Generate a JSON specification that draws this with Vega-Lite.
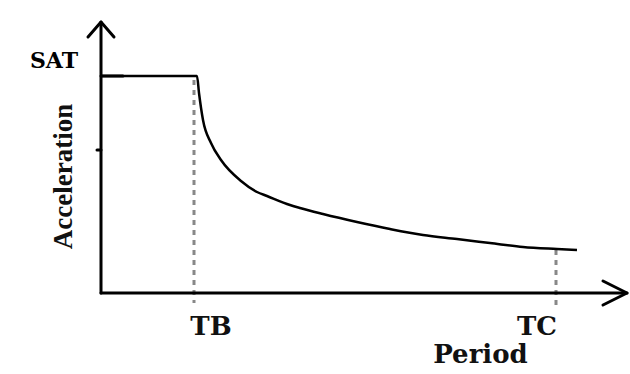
{
  "$schema": "https://vega.github.io/schema/vega-lite/v6.json",
  "width": 526,
  "height": 273,
  "autosize": {"type": "none"},
  "padding": {"left": 101, "top": 20, "right": 3, "bottom": 81},
  "background": "white",
  "config": {"view": {"stroke": null}},
  "datasets": {
    "curve": [
      {"x": 0, "y": 217}, {"x": 96, "y": 217}, {"x": 98, "y": 200}, {"x": 102, "y": 173},
      {"x": 110, "y": 150}, {"x": 120, "y": 133}, {"x": 140, "y": 112}, {"x": 156, "y": 101},
      {"x": 166, "y": 97}, {"x": 189, "y": 88}, {"x": 199, "y": 85}, {"x": 222, "y": 79},
      {"x": 256, "y": 71}, {"x": 289, "y": 64}, {"x": 322, "y": 58}, {"x": 356, "y": 54},
      {"x": 389, "y": 50}, {"x": 422, "y": 46}, {"x": 456, "y": 44}, {"x": 476, "y": 43}
    ],
    "guides": [
      {"id": "TB", "x": 93, "y": 213}, {"id": "TB", "x": 93, "y": -10},
      {"id": "TC", "x": 455, "y": 43}, {"id": "TC", "x": 455, "y": -12}
    ],
    "frame": [
      {"id": "yaxis", "o": 1, "x": 0, "y": 0}, {"id": "yaxis", "o": 2, "x": 0, "y": 271},
      {"id": "xaxis", "o": 1, "x": 0, "y": 0}, {"id": "xaxis", "o": 2, "x": 526, "y": 0},
      {"id": "yarrow", "o": 1, "x": -13, "y": 256}, {"id": "yarrow", "o": 2, "x": 0, "y": 271}, {"id": "yarrow", "o": 3, "x": 13, "y": 256},
      {"id": "xarrow", "o": 1, "x": 502, "y": 12}, {"id": "xarrow", "o": 2, "x": 526, "y": 0}, {"id": "xarrow", "o": 3, "x": 502, "y": -12},
      {"id": "ytick", "o": 1, "x": -4, "y": 143}, {"id": "ytick", "o": 2, "x": 0, "y": 143},
      {"id": "plat", "o": 1, "x": 0, "y": 217}, {"id": "plat", "o": 2, "x": 22, "y": 217}
    ],
    "periods": [
      {"label": "TB", "x": 110, "y": -34},
      {"label": "TC", "x": 436, "y": -34}
    ],
    "sat": [
      {"label": "SAT", "x": -47, "y": 232}
    ]
  },
  "encoding": {
    "x": {
      "field": "x", "type": "quantitative",
      "scale": {"domain": [0, 526], "nice": false, "zero": false},
      "axis": {
        "domain": false, "ticks": false, "labels": false, "grid": false,
        "title": "Period", "titleX": 379, "titleY": 61, "titleAlign": "center", "titleBaseline": "middle",
        "titleFont": "DejaVu Serif", "titleFontSize": 26, "titleFontWeight": "bold", "titleColor": "#111111"
      }
    },
    "y": {
      "field": "y", "type": "quantitative",
      "scale": {"domain": [0, 273], "nice": false, "zero": false},
      "axis": {
        "domain": false, "ticks": false, "labels": false, "grid": false,
        "title": "Acceleration", "titleX": -38, "titleY": 156, "titleAngle": 270, "titleAlign": "center", "titleBaseline": "middle",
        "titleFont": "Liberation Serif", "titleFontSize": 27, "titleFontWeight": "bold", "titleColor": "#111111"
      }
    }
  },
  "layer": [
    {
      "data": {"name": "guides"},
      "mark": {"type": "line", "color": "#888888", "strokeWidth": 3, "strokeDash": [5, 5]},
      "encoding": {"detail": {"field": "id"}}
    },
    {
      "data": {"name": "frame"},
      "mark": {"type": "line", "color": "#000000", "strokeWidth": 3, "strokeCap": "round", "strokeJoin": "round"},
      "encoding": {"detail": {"field": "id"}, "order": {"field": "o", "type": "quantitative"}}
    },
    {
      "data": {"name": "curve"},
      "mark": {"type": "line", "color": "#000000", "strokeWidth": 2.5, "interpolate": "monotone"},
      "encoding": {}
    },
    {
      "data": {"name": "periods"},
      "mark": {"type": "text", "font": "DejaVu Serif", "fontSize": 26, "fontWeight": "bold", "color": "#111111", "baseline": "middle", "align": "center"},
      "encoding": {"text": {"field": "label"}}
    },
    {
      "data": {"name": "sat"},
      "mark": {"type": "text", "font": "DejaVu Serif", "fontSize": 22, "fontWeight": "bold", "color": "#000000", "baseline": "middle", "align": "center"},
      "encoding": {"text": {"field": "label"}}
    }
  ]
}
